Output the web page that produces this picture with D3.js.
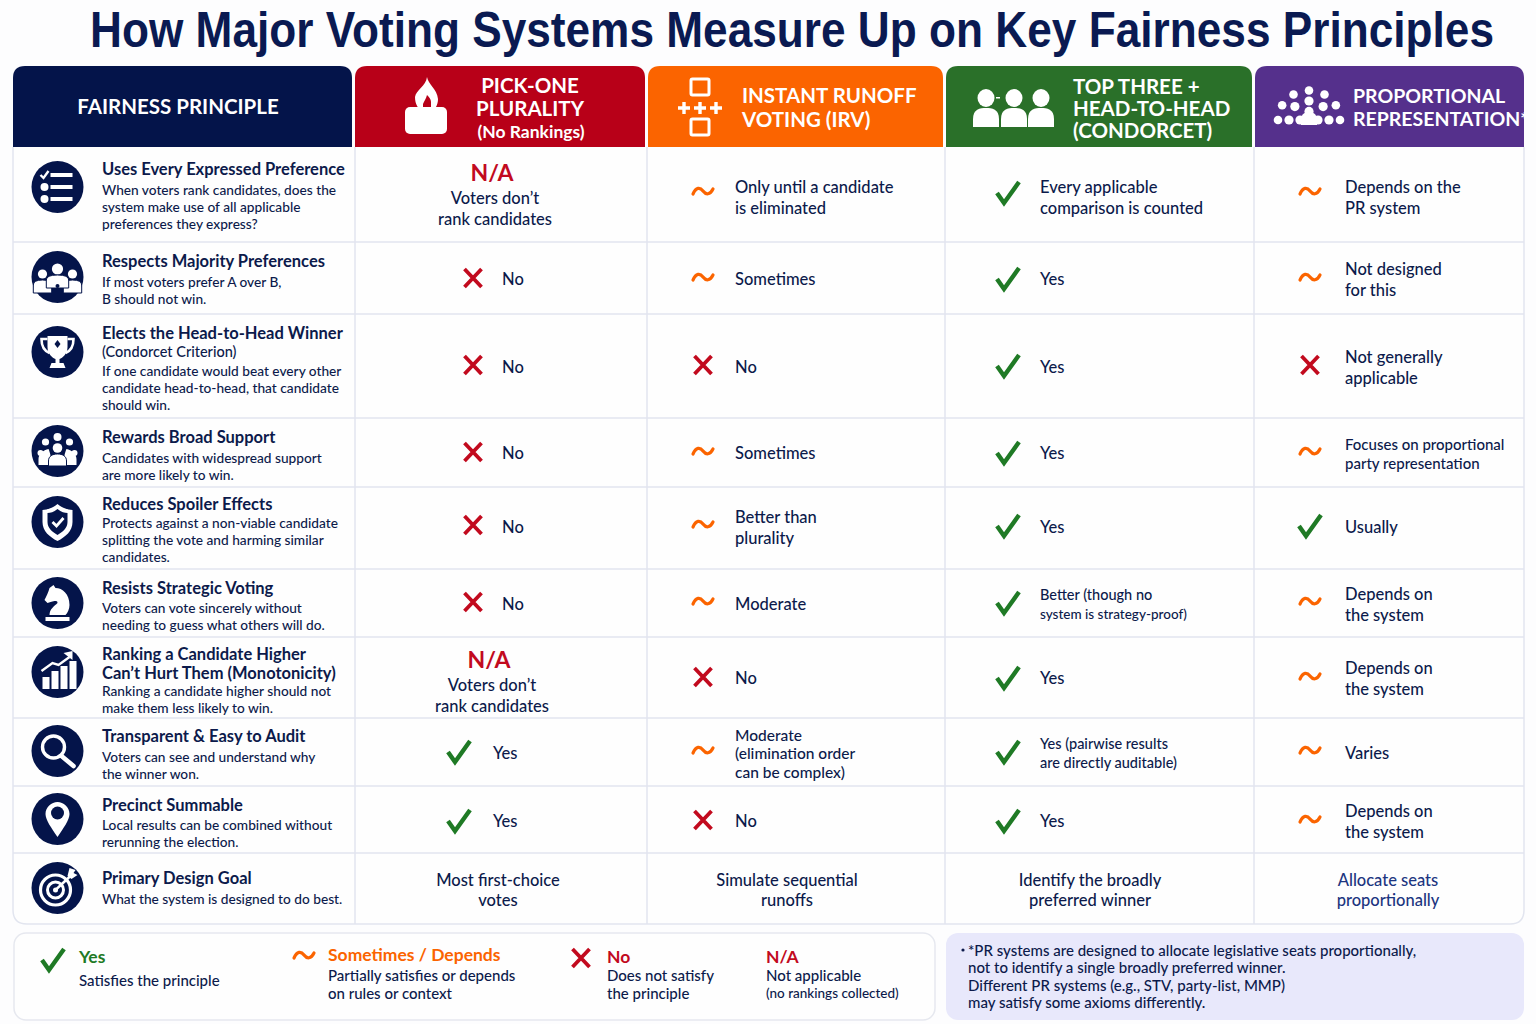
<!DOCTYPE html>
<html>
<head>
<meta charset="utf-8">
<script src="https://d3js.org/d3.v7.min.js"></script>
<style>
body { margin: 0; background: #fdfdfe; }
svg { display: block; }
text { font-family: Lato, "Noto Sans", sans-serif; fill: #0c1a4b; dominant-baseline: central; }
</style>
</head>
<body>
<svg id="chart" width="1536" height="1024"></svg>
<script>
// ---- content
var title = "How Major Voting Systems Measure Up on Key Fairness Principles"
var systems = ["plurality", "irv", "condorcet", "pr"]
var headerLines = [
    ["PICK-ONE", "PLURALITY", "(No Rankings)"],
    ["INSTANT RUNOFF", "VOTING (IRV)"],
    ["TOP THREE +", "HEAD-TO-HEAD", "(CONDORCET)"],
    ["PROPORTIONAL", "REPRESENTATION*"]
]
var principleTitles = [
    ["Uses Every Expressed Preference"],
    ["Respects Majority Preferences"],
    ["Elects the Head-to-Head Winner", "(Condorcet Criterion)"],
    ["Rewards Broad Support"],
    ["Reduces Spoiler Effects"],
    ["Resists Strategic Voting"],
    ["Ranking a Candidate Higher", "Can\u2019t Hurt Them (Monotonicity)"],
    ["Transparent & Easy to Audit"],
    ["Precinct Summable"],
    ["Primary Design Goal"]
]
var principleNotes = [
    ["When voters rank candidates, does the", "system make use of all applicable", "preferences they express?"],
    ["If most voters prefer A over B,", "B should not win."],
    ["If one candidate would beat every other", "candidate head-to-head, that candidate", "should win."],
    ["Candidates with widespread support", "are more likely to win."],
    ["Protects against a non-viable candidate", "splitting the vote and harming similar", "candidates."],
    ["Voters can vote sincerely without", "needing to guess what others will do."],
    ["Ranking a candidate higher should not", "make them less likely to win."],
    ["Voters can see and understand why", "the winner won."],
    ["Local results can be combined without", "rerunning the election."],
    ["What the system is designed to do best."]
]
var pluralityRatings = ["na", "no", "no", "no", "no", "no", "na", "yes", "yes"]
var irvRatings = ["some", "some", "no", "some", "some", "some", "no", "some", "no"]
var condorcetRatings = ["yes", "yes", "yes", "yes", "yes", "yes", "yes", "yes", "yes"]
var prRatings = ["some", "some", "no", "some", "yes", "some", "some", "some", "some"]
var pluralityText = [["Voters don\u2019t", "rank candidates"], ["No"], ["No"], ["No"], ["No"], ["No"], ["Voters don\u2019t", "rank candidates"], ["Yes"], ["Yes"]]
var irvText = [["Only until a candidate", "is eliminated"], ["Sometimes"], ["No"], ["Sometimes"], ["Better than", "plurality"], ["Moderate"], ["No"], ["Moderate", "(elimination order", "can be complex)"], ["No"]]
var condorcetText = [["Every applicable", "comparison is counted"], ["Yes"], ["Yes"], ["Yes"], ["Yes"], ["Better (though no", "system is strategy-proof)"], ["Yes"], ["Yes (pairwise results", "are directly auditable)"], ["Yes"]]
var prText = [["Depends on the", "PR system"], ["Not designed", "for this"], ["Not generally", "applicable"], ["Focuses on proportional", "party representation"], ["Usually"], ["Depends on", "the system"], ["Depends on", "the system"], ["Varies"], ["Depends on", "the system"]]
var goalText = [["Most first-choice", "votes"], ["Simulate sequential", "runoffs"], ["Identify the broadly", "preferred winner"], ["Allocate seats", "proportionally"]]
var noteLines = [
    "*PR systems are designed to allocate legislative seats proportionally,",
    "not to identify a single broadly preferred winner.",
    "Different PR systems (e.g., STV, party-list, MMP)",
    "may satisfy some axioms differently."
]
var ratingKeys = ["yes", "some", "no", "na"]
var ratingColors = ["#1f7a25", "#fb6400", "#c20a1e", "#c20a1e"]
var legendTitles = ["Yes", "Sometimes / Depends", "No", "N/A"]
var legendNotes = [["Satisfies the principle"], ["Partially satisfies or depends", "on rules or context"], ["Does not satisfy", "the principle"], ["Not applicable", "(no rankings collected)"]]

// ---- layout
var navy = "#04144a"
var headerFills = ["#b80018", "#fb6400", "#2a7029", "#55308c"]
var colEdges = [13, 355, 647, 945, 1254, 1524]
var rowEdges = [147, 242, 314, 418, 487, 569, 637, 718, 786, 853, 924]
var rowIds = d3.range(10)
var rowMid = d3.scaleOrdinal(rowIds, [197, 279, 367, 453, 527, 604, 678, 753, 821, 889])
var rowMark = d3.scaleOrdinal(rowIds, [192, 278, 365, 452, 525, 602, 677, 751, 820, 889])
var markX = d3.scaleOrdinal(systems, [473, 703, 1008, 1310])
var textX = d3.scaleOrdinal(systems, [502, 735, 1040, 1345])
var goalX = d3.scaleOrdinal(systems, [498, 787, 1090, 1388])
var naX = d3.scaleOrdinal([0, 6], [495, 492])
var naTop = d3.scaleOrdinal([0, 6], [172, 659])
var ratingColor = d3.scaleOrdinal(ratingKeys, ratingColors)
var iconY = d3.scaleOrdinal(rowIds, [187, 277, 352, 451, 522, 603, 672, 751, 819, 888])
var titleTop = d3.scaleOrdinal(rowIds, [169, 261, 333, 437, 504, 588, 654, 736, 805, 878])
var noteTop = d3.scaleOrdinal(rowIds, [189, 281, 370, 457, 522, 607, 690, 756, 824, 898])
// cells drawn smaller than the rest of the table, as [row, system]
var smallCells = {"3,pr": 15, "5,condorcet": 14.5, "7,irv": 15.5, "7,condorcet": 14.5}

var svg = d3.select("#chart")

svg.append("text").attr("class", "title")
    .attr("x", 90).attr("y", 30)
    .attr("textLength", 1404).attr("lengthAdjust", "spacingAndGlyphs")
    .style("font-family", "'Liberation Sans Narrow', 'Liberation Sans', sans-serif")
    .style("font-weight", 700).style("font-size", "50px").style("fill", "#0a1a52")
    .text(title)

// ---- table frame
function topRounded(x0, y0, x1, y1, r) {
    return `M${x0},${y1}V${y0 + r}Q${x0},${y0} ${x0 + r},${y0}H${x1 - r}Q${x1},${y0} ${x1},${y0 + r}V${y1}Z`
}
var edgeColor = "#e2e5ef"
svg.append("path")
    .attr("d", `M13,147V910Q13,924 27,924H1510Q1524,924 1524,910V147`)
    .attr("fill", "#fefefe").attr("stroke", edgeColor).attr("stroke-width", 1.5)
svg.selectAll("line.rowline").data(rowEdges.slice(1, -1)).join("line").attr("class", "rowline")
    .attr("x1", 13).attr("x2", 1524).attr("y1", d => d).attr("y2", d => d)
    .attr("stroke", edgeColor).attr("stroke-width", 1.5)
svg.selectAll("line.colline").data(colEdges.slice(1, -1)).join("line").attr("class", "colline")
    .attr("x1", d => d).attr("x2", d => d).attr("y1", 147).attr("y2", 924)
    .attr("stroke", edgeColor).attr("stroke-width", 1.5)

// ---- header band
var bandEdges = [[13, 352], [355, 645], [648, 943], [946, 1252], [1255, 1524]]
svg.selectAll("path.band").data(bandEdges).join("path").attr("class", "band")
    .attr("d", d => topRounded(d[0], 66, d[1], 147, 12))
    .attr("fill", (d, i) => i == 0 ? navy : headerFills[i - 1])

function headText(x, y, str, size, anchor) {
    svg.append("text").attr("x", x).attr("y", y).attr("text-anchor", anchor)
        .style("font-weight", 700).style("font-size", size + "px").style("fill", "#fff")
        .text(str)
}
headText(178, 106, "FAIRNESS PRINCIPLE", 20.5, "middle")
headText(530, 85, headerLines[0][0], 20.5, "middle")
headText(530, 108, headerLines[0][1], 20.5, "middle")
headText(531, 131, headerLines[0][2], 17.5, "middle")
headText(742, 95, headerLines[1][0], 20.5, "start")
headText(742, 119, headerLines[1][1], 20.5, "start")
headText(1073, 86, headerLines[2][0], 20.5, "start")
headText(1073, 108, headerLines[2][1], 20.5, "start")
headText(1073, 130, headerLines[2][2], 20.5, "start")
headText(1353, 95, headerLines[3][0], 19.5, "start")
headText(1353, 118, headerLines[3][1], 19.5, "start")

// ballot box
var box = svg.append("g").attr("fill", "#fff")
box.append("rect").attr("x", 405).attr("y", 107).attr("width", 42).attr("height", 27).attr("rx", 5)
box.append("path").attr("d", "M427,77C428,84 437,89 438,99C438,105 435,110 431,112L431,102C431,99 429,97 427,95C426,99 424,101 423,104L423,112C418,109 415,104 415,97C416,90 426,86 427,77Z")
// runoff flow
var flow = svg.append("g").attr("fill", "none").attr("stroke", "#fff").attr("stroke-width", 3)
flow.selectAll("rect").data([87, 127]).join("rect")
    .attr("x", 691).attr("y", d => d - 8).attr("width", 18).attr("height", 16).attr("rx", 1.5)
flow.selectAll("path").data([684, 700, 716]).join("path").attr("stroke-width", 3.4)
    .attr("d", d => `M${d - 6},108H${d + 6}M${d},102V114`)
// three voters
var voters = svg.append("g").attr("fill", "#fff")
voters.selectAll("g").data([[986, 1], [1014, 1], [1041, 1]]).join("g")
    .attr("transform", d => `translate(${d[0]},98)`)
    .each(function () {
        d3.select(this).append("ellipse").attr("rx", 8.5).attr("ry", 9)
        d3.select(this).append("path").attr("d", "M-13,29V21C-13,11 -6,10 0,10C6,10 13,11 13,21V29Z")
    })
voters.append("rect").attr("x", 996).attr("y", 97).attr("width", 4).attr("height", 1.5)
// seat arc
var seatArcs = [[31, 7], [20, 5], [9, 3]]
var seats = svg.append("g").attr("fill", "#fff")
seatArcs.forEach(function (a) {
    d3.range(a[1]).forEach(function (k) {
        var ang = Math.PI * k / (a[1] - 1)
        seats.append("circle")
            .attr("cx", 1309 + a[0] * Math.cos(ang)).attr("cy", 120 - a[0] * Math.sin(ang) * 0.95)
            .attr("r", a[0] > 25 ? 4.3 : 4.6)
    })
})
seats.append("path").attr("d", "M1301,125V120C1301,114 1305,112 1309,112C1313,112 1317,114 1317,120V125Z")

// ---- rating marks
function drawMark(g, rating) {
    var c = ratingColor(rating)
    if (rating == "yes") {
        g.append("path").attr("d", "M-11,1L-4,11L11,-10").attr("fill", "none")
            .attr("stroke", c).attr("stroke-width", 4.4).attr("stroke-linejoin", "miter")
    } else if (rating == "some") {
        g.append("path").attr("d", "M-10,2C-7,-5 -3,-5 0,-1C3,3 7,3 10,-3").attr("fill", "none")
            .attr("stroke", c).attr("stroke-width", 3.2).attr("stroke-linecap", "round")
    } else if (rating == "no") {
        g.append("path").attr("d", "M-8.5,-9L8.5,9M8.5,-9L-8.5,9").attr("fill", "none")
            .attr("stroke", c).attr("stroke-width", 3.8)
    }
}

// ---- table body
var ratings = [pluralityRatings, irvRatings, condorcetRatings, prRatings]
var cellText = [pluralityText, irvText, condorcetText, prText]
systems.forEach(function (sys, s) {
    ratings[s].forEach(function (rating, row) {
        var lines = cellText[s][row]
        var size = smallCells[row + "," + sys] || 16.5
        var mid = rowMid(row)
        if (rating == "na") {
            svg.append("text").attr("x", naX(row) - 3).attr("y", naTop(row)).attr("text-anchor", "middle")
                .style("font-weight", 700).style("font-size", "23px").style("fill", ratingColor("na")).text("N/A")
            lines.forEach(function (l, i) {
                svg.append("text").attr("x", naX(row)).attr("y", naTop(row) + 26 + i * 20.5).attr("text-anchor", "middle")
                    .style("font-size", "16.5px").style("font-weight", 500).text(l)
            })
            return
        }
        // the two Yes cells under plurality sit further left than the No cells
        var shift = sys == "plurality" && rating == "yes" ? [-14, -9] : [0, 0]
        var g = svg.append("g").attr("transform", `translate(${markX(sys) + shift[0]},${rowMark(row)})`)
        drawMark(g, rating)
        var step = lines.length == 3 ? 18.5 : (size < 16 ? 19 : 21)
        lines.forEach(function (l, i) {
            svg.append("text").attr("x", textX(sys) + shift[1])
                .attr("y", mid + (i - (lines.length - 1) / 2) * step)
                .style("font-size", (sys == "condorcet" && row == 5 && i == 1 ? 13.5 : size) + "px")
                .style("font-weight", 500).text(l)
        })
    })
    goalText[s].forEach(function (l, i) {
        svg.append("text").attr("x", goalX(sys)).attr("y", 880 + i * 19.5).attr("text-anchor", "middle")
            .style("font-size", "16.5px").style("font-weight", 500)
            .style("fill", sys == "pr" ? "#1c3580" : null).text(l)
    })
})

// ---- principle column
function principleIcon(g, i) {
    var w = "#fff"
    var add = (tag, attrs) => {
        var el = g.append(tag)
        Object.keys(attrs).forEach(k => el.attr(k, attrs[k]))
        return el
    }
    if (i == 0) {
        [-12, 0, 12].forEach(function (y, k) {
            add("rect", {x: -7, y: y - 2, width: 22, height: 4, fill: w})
            if (k == 0) add("path", {d: `M-17,${y}L-14,${y + 3}L-9,${y - 4}`, fill: "none", stroke: w, "stroke-width": 2.4})
            else add("circle", {cx: -13, cy: y, r: 4, fill: w})
        })
    } else if (i == 1) {
        [[-15, -3, 4.6], [15, -3, 4.6], [0, -8, 5.6]].forEach(function (p) {
            add("circle", {cx: p[0], cy: p[1], r: p[2], fill: w})
            add("path", {d: `M${p[0] - p[2] * 2},${p[1] + 19}V${p[1] + 11}Q${p[0] - p[2] * 2},${p[1] + 6} ${p[0]},${p[1] + 6}Q${p[0] + p[2] * 2},${p[1] + 6} ${p[0] + p[2] * 2},${p[1] + 11}V${p[1] + 19}Z`, fill: w, stroke: navy, "stroke-width": 1})
        })
        add("circle", {cx: 0, cy: 9, r: 2, fill: navy})
    } else if (i == 2) {
        add("path", {d: "M-10,-16H10V-5C10,2 5,6 2,7V11H6L8,16H-8L-6,11H-2V7C-5,6 -10,2 -10,-5Z", fill: w})
        add("path", {d: "M-10,-13H-16C-16,-5 -13,-1 -8,1M10,-13H16C16,-5 13,-1 8,1", fill: "none", stroke: w, "stroke-width": 2.6})
        add("path", {d: "M0,-12L3,-8L0,-4L-3,-8Z", fill: navy})
    } else if (i == 3) {
        [[-12, -9, 3.6], [12, -9, 3.6], [0, -14, 4], [-17, 2, 3], [17, 2, 3], [0, -3, 4.8]].forEach(function (p) {
            add("circle", {cx: p[0], cy: p[1], r: p[2], fill: w})
        })
        add("path", {d: "M-19,14V8C-19,3 -14,-1 -9,-2C-9,-2 -6,4 -6,14ZM19,14V8C19,3 14,-1 9,-2C9,-2 6,4 6,14Z", fill: w})
        add("path", {d: "M-9,15V10C-9,5 -5,3 0,3C5,3 9,5 9,10V15Z", fill: w, stroke: navy, "stroke-width": 1})
    } else if (i == 4) {
        add("path", {d: "M0,-18C5,-14 11,-12 15,-12V0C15,9 8,15 0,19C-8,15 -15,9 -15,0V-12C-11,-12 -5,-14 0,-18Z", fill: w})
        add("path", {d: "M0,-13C4,-10 7,-9 10,-9V0C10,6 5,10 0,13C-5,10 -10,6 -10,0V-9C-7,-9 -4,-10 0,-13Z", fill: navy})
        add("path", {d: "M-5,0L-1,4L6,-4", fill: "none", stroke: w, "stroke-width": 2.8})
    } else if (i == 5) {
        add("path", {d: "M-8,-15L-4,-18L-2,-15C5,-15 12,-9 12,2C12,6 10,10 8,12H-8C-8,6 -3,3 0,0C0,-2 -1,-2 -3,-2C-6,-1 -8,-1 -10,0L-13,-3C-11,-7 -9,-11 -8,-15Z", fill: w})
        add("rect", {x: -12, y: 14, width: 24, height: 4, fill: w})
    } else if (i == 6) {
        [[-15, 3, 14], [-6, -1, 18], [3, -6, 23], [12, -11, 28]].forEach(function (b, k) {
            add("rect", {x: b[0], y: b[1] + (k == 0 ? 2 : 0), width: 7, height: b[2] - (k == 0 ? 2 : 0), fill: w})
        })
        add("path", {d: "M-16,-1L-5,-9L1,-7L12,-15", fill: "none", stroke: w, "stroke-width": 2.4})
        add("path", {d: "M6,-19L15,-21L15,-12Z", fill: w})
    } else if (i == 7) {
        add("circle", {cx: -4, cy: -4, r: 11, fill: "none", stroke: w, "stroke-width": 3.4})
        add("path", {d: "M4,5L16,15", stroke: w, "stroke-width": 4.6, "stroke-linecap": "round"})
    } else if (i == 8) {
        add("path", {d: "M0,18C-6,9 -12,1 -12,-5C-12,-12 -6,-17 0,-17C6,-17 12,-12 12,-5C12,1 6,9 0,18Z", fill: w})
        add("circle", {cx: 0, cy: -6, r: 6.5, fill: navy})
    } else {
        add("circle", {cx: -2, cy: 2, r: 15, fill: "none", stroke: w, "stroke-width": 3.2})
        add("circle", {cx: -2, cy: 2, r: 8, fill: "none", stroke: w, "stroke-width": 3})
        add("circle", {cx: -2, cy: 2, r: 2.5, fill: w})
        add("path", {d: "M-2,2L14,-13", stroke: w, "stroke-width": 2.4})
        add("path", {d: "M10,-12L12,-20L18,-18L16,-15L20,-13L14,-9Z", fill: w})
    }
}

rowIds.forEach(function (row) {
    var g = svg.append("g").attr("transform", `translate(57.5,${iconY(row)})`)
    g.append("circle").attr("r", 26).attr("fill", navy)
    principleIcon(g, row)
    principleTitles[row].forEach(function (l, i) {
        // second lines: the Condorcet one is a small sub-heading
        var sub = row == 2 && i == 1
        svg.append("text").attr("x", 102).attr("y", titleTop(row) + i * 18.5)
            .style("font-weight", sub ? 500 : 700).style("font-size", (sub ? 14.5 : 16.5) + "px").text(l)
    })
    principleNotes[row].forEach(function (l, i) {
        svg.append("text").attr("x", 102).attr("y", noteTop(row) + i * 17)
            .style("font-weight", 500).style("font-size", "13.7px").text(l)
    })
})

// ---- legend and footnote
svg.append("rect").attr("x", 14).attr("y", 933).attr("width", 921).attr("height", 87).attr("rx", 12)
    .attr("fill", "#fefefe").attr("stroke", "#e6e8ef").attr("stroke-width", 1.5)
svg.append("rect").attr("x", 946).attr("y", 933).attr("width", 578).attr("height", 87).attr("rx", 12)
    .attr("fill", "#e8e8fb")

var legendX = d3.scaleOrdinal(ratingKeys, [79, 328, 607, 766])
var legendMarkX = d3.scaleOrdinal(ratingKeys, [53, 304, 581, 0])
var legendMarkY = d3.scaleOrdinal(ratingKeys, [959, 956, 958, 0])
var legendTitleY = d3.scaleOrdinal(ratingKeys, [956, 954, 956, 956])
ratingKeys.forEach(function (key, k) {
    var g = svg.append("g").attr("transform", `translate(${legendMarkX(key)},${legendMarkY(key)})`)
    drawMark(g, key)
    svg.append("text").attr("x", legendX(key)).attr("y", legendTitleY(key))
        .style("font-weight", 700).style("font-size", "17.5px").style("fill", ratingColor(key))
        .text(legendTitles[k])
    legendNotes[k].forEach(function (l, i) {
        var y = legendNotes[k].length == 1 ? 980 : 975 + i * 18
        svg.append("text").attr("x", legendX(key)).attr("y", y)
            .style("font-weight", 500).style("font-size", (key == "na" && i == 1 ? 13.5 : 15) + "px").text(l)
    })
})

svg.append("circle").attr("cx", 963).attr("cy", 950).attr("r", 1.6).attr("fill", "#0c1a4b")
noteLines.forEach(function (l, i) {
    svg.append("text").attr("x", 968).attr("y", 950 + i * 17.4)
        .style("font-weight", 500).style("font-size", "15px").text(l)
})
</script>
</body>
</html>
